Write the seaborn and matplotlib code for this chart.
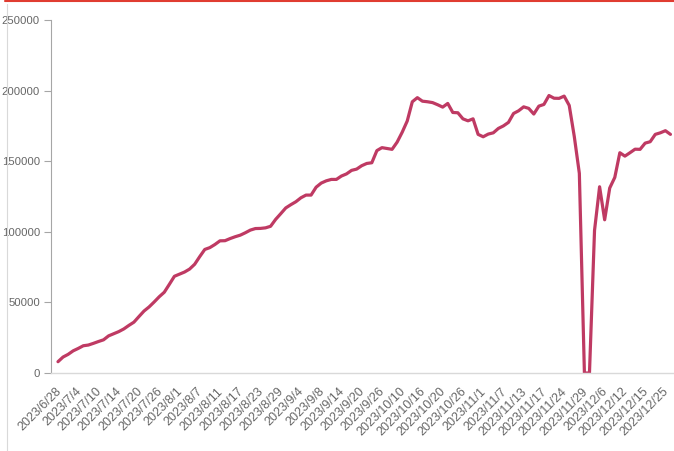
import pandas as pd
import seaborn as sns
import matplotlib.pyplot as plt
from matplotlib.lines import Line2D
from matplotlib.transforms import ScaledTranslation

# values, one per trading day
values = [
    8000, 11300, 13200, 15700, 17400, 19300, 19800, 21000, 22300, 23500,
    26300, 27800, 29300, 31200, 33700, 36000, 40000, 43900, 46800, 50300,
    54000, 57200, 62800, 68500, 70000, 71500, 73600, 77000, 82400, 87500,
    88800, 91000, 93600, 93700, 95200, 96500, 97600, 99300, 101200, 102300,
    102400, 102800, 103900, 108800, 112800, 116900, 119200, 121300, 124100, 126000,
    126000, 131600, 134500, 136100, 137100, 137100, 139500, 141000, 143500, 144400,
    146800, 148400, 148900, 157500, 159600, 159000, 158400, 163500, 170500, 178500,
    192100, 195000, 192500, 192100, 191500, 190000, 188300, 190900, 184500, 184300,
    180000, 178600, 180000, 169000, 167300, 169200, 170100, 173200, 175000, 177500,
    183800, 185700, 188500, 187400, 183400, 189000, 190200, 196500, 194600, 194500,
    196100, 189500, 167500, 141400, 0, 0, 101000, 131900, 108500, 131000,
    138500, 156000, 153600, 156000, 158500, 158400, 162800, 163800, 169000, 170100,
    171600, 169000,
]

# date labels shown every 4th point
tick_labels = [
    "2023/6/28", "2023/7/4", "2023/7/10", "2023/7/14", "2023/7/20", "2023/7/26",
    "2023/8/1", "2023/8/7", "2023/8/11", "2023/8/17", "2023/8/23", "2023/8/29",
    "2023/9/4", "2023/9/8", "2023/9/14", "2023/9/20", "2023/9/26", "2023/10/10",
    "2023/10/16", "2023/10/20", "2023/10/26", "2023/11/1", "2023/11/7", "2023/11/13",
    "2023/11/17", "2023/11/24", "2023/11/29", "2023/12/6", "2023/12/12", "2023/12/15",
    "2023/12/25",
]

y_ticks = [0, 50000, 100000, 150000, 200000, 250000]

df = pd.DataFrame({"idx": range(len(values)), "value": values})

sns.set_style("white")
plt.rcParams['font.family'] = ['Liberation Sans Narrow', 'Liberation Sans', 'DejaVu Sans']

LINE_COLOR = "#BF3A63"
TEXT_COLOR = "#666666"

fig = plt.figure(figsize=(6.74, 4.51), dpi=100)
ax = fig.add_axes([51 / 674, 78 / 451, 1 - 51 / 674, (373 - 20) / 451])

sns.lineplot(data=df, x="idx", y="value", ax=ax, color=LINE_COLOR, linewidth=2.3)

ax.set_xlim(-1.38, 121.7)
ax.set_ylim(0, 250000)
ax.set_xlabel("")
ax.set_ylabel("")

ax.set_yticks(y_ticks)
ax.set_yticklabels([str(v) for v in y_ticks], fontsize=8.2, color=TEXT_COLOR)
ax.tick_params(axis="y", which="major", left=True, length=5, width=0.8,
               color="#A6A6A6", pad=3)

ax.set_xticks(range(0, len(values), 4))
ax.set_xticklabels(tick_labels, rotation=45, ha="right", va="top",
                   rotation_mode="anchor", fontsize=9.0, color=TEXT_COLOR)
ax.tick_params(axis="x", which="major", bottom=False, length=0, pad=9)
shift = ScaledTranslation(-3 / 100, 0, fig.dpi_scale_trans)
for lab in ax.get_xticklabels():
    lab.set_transform(lab.get_transform() + shift)

for side in ["top", "right"]:
    ax.spines[side].set_visible(False)
ax.spines["left"].set_color("#A6A6A6")
ax.spines["left"].set_linewidth(0.8)
ax.spines["bottom"].set_color("#D9D9D9")
ax.spines["bottom"].set_linewidth(1.0)

# frame bits around the chart: red top rule and faint left border
fig.add_artist(Line2D([5 / 674, 1], [1 - 1 / 451, 1 - 1 / 451], color="#E03C31",
                      linewidth=1.5, transform=fig.transFigure))
fig.add_artist(Line2D([7 / 674, 7 / 674], [0, 1 - 4 / 451], color="#D9D9D9",
                      linewidth=0.8, transform=fig.transFigure))

fig.savefig("out.png", dpi=100)
